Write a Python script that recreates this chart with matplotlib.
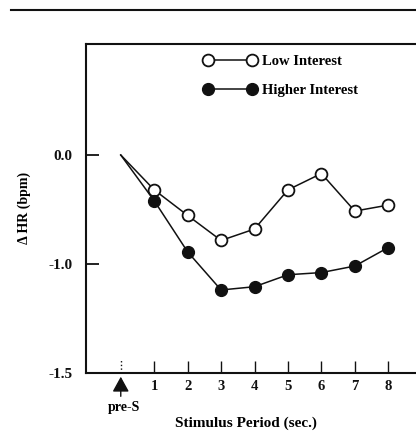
import matplotlib
matplotlib.use('Agg')
import matplotlib.pyplot as plt
from matplotlib.lines import Line2D

periods = [0, 1, 2, 3, 4, 5, 6, 7, 8]
low_interest = [0.0, -0.32, -0.555, -0.785, -0.68, -0.32, -0.17, -0.515, -0.46]
higher_interest = [0.0, -0.42, -0.89, -1.24, -1.21, -1.10, -1.08, -1.02, -0.85]
y_ticks = [0.0, -1.0, -2.0]
y_tick_labels = ['0.0', '-1.0', '-1.5']
x_ticks = [1, 2, 3, 4, 5, 6, 7, 8]

plt.rcParams['font.family'] = ['Liberation Serif', 'DejaVu Serif']
plt.rcParams['font.weight'] = 'bold'

fig = plt.figure(figsize=(4.16, 4.32), dpi=100)
ax = fig.add_axes([86 / 416, 1 - 372.7 / 432, 1 - 86 / 416, (372.7 - 44) / 432])

ink = '#111111'
ax.plot(periods, low_interest, color=ink, lw=1.1, marker='o', markersize=8.5,
        markerfacecolor='white', markeredgecolor=ink, markeredgewidth=1.3,
        markevery=list(range(1, 9)), label='Low Interest', zorder=3)
ax.plot(periods, higher_interest, color=ink, lw=1.1, marker='o', markersize=8.5,
        markerfacecolor=ink, markeredgecolor=ink,
        markevery=list(range(1, 9)), label='Higher Interest', zorder=3)

ax.set_xlim(-1.04, 8.83)
ax.set_ylim(-2.0, 1.02)

ax.spines['right'].set_visible(False)
for side in ['left', 'bottom', 'top']:
    ax.spines[side].set_linewidth(1.5)
    ax.spines[side].set_color(ink)

ax.set_xticks(x_ticks)
ax.set_xticklabels([str(t) for t in x_ticks], fontsize=10.5, fontweight='bold')
ax.set_yticks(y_ticks)
ax.set_yticklabels(y_tick_labels, fontsize=11, fontweight='bold')
ax.tick_params(axis='x', direction='in', length=8.5, width=1.0, pad=5.5, colors=ink)
ax.tick_params(axis='y', direction='in', length=9, width=1.3, pad=9.5, colors=ink)

# dotted pre-S tick and arrow below it
ax.axvline(0, ymin=0, ymax=0.04, ls=':', lw=1.0, color=ink)
ax.annotate('', xy=(0, 0), xycoords=('data', 'axes fraction'),
            xytext=(0, -17), textcoords='offset points',
            arrowprops=dict(arrowstyle='-|>,head_length=0.4,head_width=0.22',
                            color=ink, lw=1.0, mutation_scale=23,
                            shrinkA=0, shrinkB=2.9))
ax.text(0.1, -0.105, 'pre-S', transform=ax.get_xaxis_transform(),
        ha='center', va='center', fontsize=10, fontweight='bold')

ax.set_xlabel('Stimulus Period (sec.)', fontsize=11, fontweight='bold', labelpad=17)
ax.xaxis.label.set_x((245.8 - 86) / (416 - 86))
ax.set_ylabel('Δ HR (bpm)', fontsize=10, fontweight='bold', labelpad=13)

ax.legend(loc='upper left', bbox_to_anchor=(203.6 / 416, 1 - 55 / 432),
          bbox_transform=fig.transFigure, frameon=False, numpoints=2,
          handlelength=3.62, handletextpad=0.38, labelspacing=1.05,
          borderpad=0, borderaxespad=0,
          prop={'size': 10.5, 'weight': 'bold'})

fig.add_artist(Line2D([11 / 416, 1], [1 - 10 / 432, 1 - 10 / 432],
                      lw=1.5, color=ink, transform=fig.transFigure))

fig.savefig('out.png', dpi=100, facecolor='white')
